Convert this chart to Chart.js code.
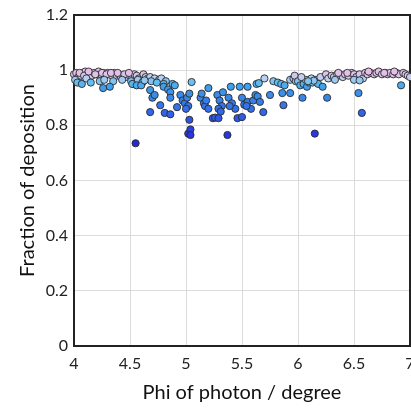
<!DOCTYPE html>
<html><head><meta charset="utf-8">
<script src="https://cdn.jsdelivr.net/npm/chart.js@4"></script>
<style>html,body{margin:0;padding:0;background:#fff;overflow:hidden}#wrap{width:411px;height:408px;overflow:hidden;position:relative}canvas{display:block}</style>
</head><body><div id="wrap"><canvas id="c" width="420" height="408"></canvas></div>
<script>
// Phi of photon (degree) and fraction of deposition
const phi = [
 4.00,4.02,4.04,4.06,4.08,4.10,4.12,4.14,4.16,4.18,4.20,4.22,4.24,4.26,4.28,4.30,4.32,4.34,4.36,4.38,
 4.40,4.42,4.44,4.46,4.48,4.50,4.52,4.54,4.56,4.58,4.62,4.64,4.66,4.68,4.72,4.76,4.78,4.82,
 4.05,4.09,4.13,4.19,4.25,4.29,4.33,4.39,4.45,4.49,
 4.01,4.03,4.07,4.11,4.15,4.23,4.27,4.35,4.43,4.51,4.53,4.57,4.61,4.69,4.74,4.80,
 4.26,4.32,4.52,4.56,4.60,4.63,4.68,4.70,4.72,4.77,4.80,4.84,4.86,4.88,4.90,4.86,4.92,4.68,4.81,4.86,4.55,
 4.95,4.97,4.99,5.01,5.02,5.03,5.00,5.05,5.02,5.04,5.04,5.03,
 5.13,5.16,5.17,5.18,5.20,5.14,5.20,5.24,5.26,5.29,5.28,5.30,5.32,5.29,5.31,5.33,
 5.40,5.38,5.41,5.44,5.39,5.37,5.46,5.50,5.48,5.55,5.50,5.52,5.55,5.58,5.60,5.54,
 5.63,5.65,5.62,5.64,5.66,5.69,5.75,5.70,5.78,5.82,5.85,5.88,5.86,5.87,5.93,5.93,5.96,5.98,5.97,
 6.00,6.02,6.04,6.05,6.07,6.08,6.10,6.12,6.15,6.13,6.16,6.18,6.20,6.22,6.26,6.25,6.27,6.30,6.32,6.35,
 6.38,6.40,6.42,6.45,6.48,6.50,6.52,6.54,6.55,6.57,6.58,6.60,6.62,6.65,6.68,6.70,6.72,6.75,6.78,6.80,
 6.82,6.85,6.88,6.90,6.92,6.94,6.96,6.98,7.00,6.14,6.33,6.50,6.55,6.03,6.09,
 6.36,6.44,6.63,6.77,6.86
];
const fraction = [
 0.985,0.990,0.975,0.980,0.990,0.995,0.985,0.990,0.980,0.990,0.985,0.995,0.985,0.990,0.980,0.990,0.985,0.980,0.990,0.980,
 0.985,0.975,0.980,0.975,0.985,0.980,0.975,0.985,0.980,0.970,0.985,0.975,0.970,0.975,0.970,0.965,0.970,0.960,
 0.990,0.980,0.995,0.985,0.990,0.985,0.990,0.990,0.985,0.990,
 0.965,0.955,0.950,0.970,0.955,0.960,0.965,0.960,0.965,0.960,0.950,0.965,0.955,0.960,0.955,0.950,
 0.935,0.940,0.950,0.945,0.945,0.963,0.928,0.900,0.910,0.873,0.940,0.930,0.920,0.950,0.945,0.900,0.866,0.848,0.845,0.840,0.735,
 0.910,0.890,0.880,0.900,0.870,0.915,0.860,0.957,0.770,0.785,0.765,0.820,
 0.900,0.880,0.870,0.890,0.860,0.915,0.935,0.826,0.828,0.826,0.910,0.890,0.870,0.860,0.850,0.920,
 0.940,0.900,0.880,0.860,0.870,0.765,0.826,0.830,0.940,0.940,0.900,0.875,0.885,0.860,0.890,0.870,
 0.950,0.953,0.910,0.905,0.885,0.848,0.910,0.970,0.960,0.955,0.950,0.945,0.917,0.873,0.917,0.965,0.970,0.960,0.980,
 0.960,0.945,0.900,0.950,0.965,0.940,0.955,0.970,0.770,0.955,0.965,0.950,0.975,0.940,0.900,0.985,0.970,0.980,0.975,0.985,
 0.980,0.975,0.985,0.980,0.990,0.985,0.975,0.917,0.985,0.845,0.970,0.990,0.985,0.990,0.985,0.990,0.995,0.985,0.990,0.985,
 0.990,0.985,0.990,0.985,0.945,0.990,0.985,0.980,0.975,0.962,0.965,0.965,0.963,0.975,0.960,
 0.990,0.990,0.995,0.990,0.995
];
const xTickValues = [4, 4.5, 5, 5.5, 6, 6.5, 7];
const xTickLabels = ["4", "4.5", "5", "5.5", "6", "6.5", "7"];
const yTickValues = [0, 0.2, 0.4, 0.6, 0.8, 1, 1.2];
const yTickLabels = ["0", "0.2", "0.4", "0.6", "0.8", "1", "1.2"];
const xTitle = "Phi of photon / degree";
const yTitle = "Fraction of deposition";

const points = phi.map((x, i) => ({ x: x, y: fraction[i] }));

const stops = [
  [0.73, [36, 40, 214]], [0.80, [44, 70, 228]], [0.86, [52, 110, 232]],
  [0.91, [58, 140, 232]], [0.94, [64, 160, 236]], [0.955, [100, 190, 242]],
  [0.97, [186, 208, 242]], [0.985, [218, 196, 234]], [0.995, [232, 190, 232]]
];
function colorFor(v) {
  if (v <= stops[0][0]) return 'rgb(' + stops[0][1].join(',') + ')';
  for (let i = 1; i < stops.length; i++) {
    if (v <= stops[i][0]) {
      const a = stops[i - 1], b = stops[i];
      const t = (v - a[0]) / (b[0] - a[0]);
      const c = a[1].map((ch, k) => Math.round(ch + (b[1][k] - ch) * t));
      return 'rgb(' + c.join(',') + ')';
    }
  }
  return 'rgb(' + stops[stops.length - 1][1].join(',') + ')';
}

const frame = {
  id: 'frame',
  beforeDatasetsDraw(chart) {
    const a = chart.chartArea, ctx = chart.ctx;
    ctx.save();
    ctx.strokeStyle = '#222';
    ctx.lineWidth = 2;
    ctx.strokeRect(a.left, a.top, a.right - a.left, a.bottom - a.top);
    ctx.restore();
  }
};

const FONT = 'Lato, "Open Sans", sans-serif';
new Chart(document.getElementById('c'), {
  type: 'scatter',
  data: { datasets: [{
    data: points,
    pointRadius: 3.6,
    pointHoverRadius: 3.6,
    pointBorderWidth: 0.9,
    pointBorderColor: '#2a2a2a',
    pointBackgroundColor: (ctx) => colorFor(ctx.raw ? ctx.raw.y : 1),
    clip: false
  }]},
  options: {
    responsive: false,
    animation: false,
    devicePixelRatio: 1,
    layout: { padding: { top: 15, right: 10, left: 0, bottom: 0 } },
    plugins: { legend: { display: false }, tooltip: { enabled: false } },
    scales: {
      x: {
        type: 'linear', min: 4, max: 7,
        afterBuildTicks: (s) => { s.ticks = xTickValues.map(v => ({ value: v })); },
        afterFit: (s) => { s.height = 62; s.paddingLeft = 0; s.paddingRight = 0; },
        grid: { color: '#dcdcdc', lineWidth: 1, drawTicks: false },
        border: { display: false },
        ticks: {
          padding: 8, maxRotation: 0, autoSkip: false, color: '#222',
          font: { family: FONT, size: 16 },
          callback: (v) => { const i = xTickValues.findIndex(t => Math.abs(t - v) < 1e-9); return i >= 0 ? xTickLabels[i] : ''; }
        },
        title: { display: true, text: xTitle, color: '#111', font: { family: FONT, size: 20 }, padding: { top: 0, bottom: 3 } }
      },
      y: {
        type: 'linear', min: 0, max: 1.2,
        afterBuildTicks: (s) => { s.ticks = yTickValues.map(v => ({ value: v })); },
        afterFit: (s) => { s.width = 74; s.paddingTop = 0; s.paddingBottom = 0; },
        grid: { color: '#dcdcdc', lineWidth: 1, drawTicks: false },
        border: { display: false },
        ticks: {
          padding: 6, autoSkip: false, color: '#222',
          font: { family: FONT, size: 16 },
          callback: (v) => { const i = yTickValues.findIndex(t => Math.abs(t - v) < 1e-9); return i >= 0 ? yTickLabels[i] : ''; }
        },
        title: { display: true, text: yTitle, color: '#111', font: { family: FONT, size: 20 }, padding: { top: 16, bottom: 0 } }
      }
    }
  },
  plugins: [frame]
});
</script></body></html>
